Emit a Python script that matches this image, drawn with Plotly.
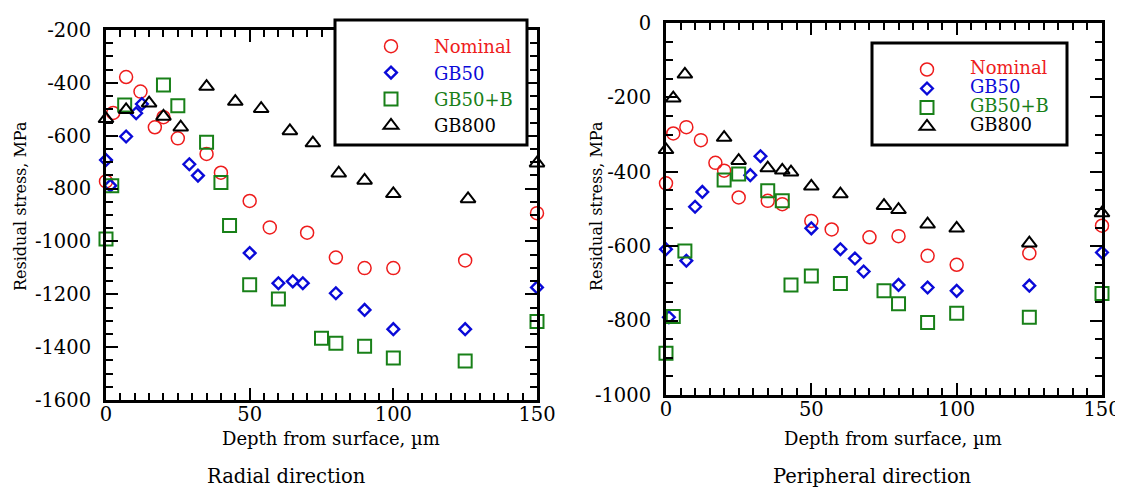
import plotly.graph_objects as go

W, H = 1123, 491
OFF = 8  # page margin around the figure
FW, FH = W - OFF, H - OFF

# ---------------- data: radial direction (left) ----------------
nom_x_r = [0, 2.5, 7, 12, 17, 20, 25, 35, 40, 50, 57, 70, 80, 90, 100, 125, 150]
nom_y_r = [-773, -514, -378, -433, -568, -530, -610, -669, -740, -847, -947, -967, -1061, -1101, -1101, -1072, -893]

gb50_x_r = [0, 1.5, 7, 10.5, 12.5, 29, 32, 50, 60, 65, 68.5, 80, 90, 100, 125, 150]
gb50_y_r = [-692, -789, -603, -515, -480, -708, -751, -1044, -1158, -1151, -1158, -1196, -1259, -1332, -1332, -1174]

gbb_x_r = [0, 2, 6.5, 20, 25, 35, 40, 43, 50, 60, 75, 80, 90, 100, 125, 150]
gbb_y_r = [-991, -789, -484, -408, -487, -625, -777, -940, -1164, -1218, -1366, -1385, -1397, -1441, -1452, -1303]

gb800_x_r = [0, 7, 15, 20, 26, 35, 45, 54, 64, 72, 81, 90, 100, 126, 150]
gb800_y_r = [-536, -502, -477, -527, -568, -414, -471, -498, -582, -628, -742, -769, -820, -839, -704]

# ---------------- data: peripheral direction (right) ----------------
nom_x_p = [0, 2.5, 7, 12, 17, 20, 25, 35, 40, 50, 57, 70, 80, 90, 100, 125, 150]
nom_y_p = [-431, -297, -280, -315, -376, -397, -469, -478, -487, -532, -555, -576, -573, -626, -650, -619, -545]

gb50_x_p = [0, 1, 7, 10, 12.5, 29, 32.5, 50, 60, 65, 68, 80, 90, 100, 125, 150]
gb50_y_p = [-608, -791, -639, -494, -454, -409, -358, -552, -608, -633, -668, -704, -711, -720, -706, -617]

gbb_x_p = [0, 2.5, 6.5, 20, 25, 35, 40, 43, 50, 60, 75, 80, 90, 100, 125, 150]
gbb_y_p = [-888, -789, -613, -422, -406, -451, -478, -704, -680, -700, -720, -755, -805, -780, -791, -727]

gb800_x_p = [0, 2.5, 6.5, 20, 25, 35, 40, 43, 50, 60, 75, 80, 90, 100, 125, 150]
gb800_y_p = [-341, -202, -138, -308, -370, -390, -396, -401, -439, -460, -491, -502, -541, -552, -592, -511]

series_names = ["Nominal", "GB50", "GB50+B", "GB800"]
series_colors = ["#ee1c1c", "#0a0ad8", "#188018", "#000000"]
series_symbols = ["circle-open", "diamond-open", "square-open", "triangle-up-open"]
series_sizes = [13, 9, 13, 13]
series_lw = [1.5, 2.4, 2, 2]

x_ticks = [0, 50, 100, 150]
x_ticktext = ["0", "50", "100", "150"]
y_ticks_r = [-1600, -1400, -1200, -1000, -800, -600, -400, -200]
y_ticktext_r = ["-1600", "-1400", "-1200", "-1000", "-800", "-600", "-400", "-200"]
y_ticks_p = [-1000, -800, -600, -400, -200, 0]
y_ticktext_p = ["-1000", "-800", "-600", "-400", "-200", "0"]

FONT = "DejaVu Serif"
TICK_SIZE = 19.5


def px(x):
    return (x - OFF) / FW


def py(y):
    return 1 - (y - OFF) / FH


radial = [(nom_x_r, nom_y_r), (gb50_x_r, gb50_y_r), (gbb_x_r, gbb_y_r), (gb800_x_r, gb800_y_r)]
periph = [(nom_x_p, nom_y_p), (gb50_x_p, gb50_y_p), (gbb_x_p, gbb_y_p), (gb800_x_p, gb800_y_p)]

pad = "\u00a0" * 4
fig = go.Figure()
for i, (xs, ys) in enumerate(radial):
    fig.add_trace(go.Scatter(
        x=xs, y=ys, mode="markers", xaxis="x", yaxis="y", cliponaxis=False,
        name=f'<span style="color:{series_colors[i]}">{pad}{series_names[i]}</span>',
        legend="legend",
        marker=dict(symbol=series_symbols[i], size=series_sizes[i], color=series_colors[i],
                    line=dict(width=series_lw[i], color=series_colors[i])),
    ))
for i, (xs, ys) in enumerate(periph):
    fig.add_trace(go.Scatter(
        x=xs, y=ys, mode="markers", xaxis="x2", yaxis="y2", cliponaxis=False,
        name=f'<span style="font-size:18px;color:{series_colors[i]}">{pad}{series_names[i]}</span>',
        legend="legend2",
        marker=dict(symbol=series_symbols[i], size=series_sizes[i], color=series_colors[i],
                    line=dict(width=series_lw[i], color=series_colors[i])),
    ))


def xaxis(domain, anchor):
    return dict(domain=domain, anchor=anchor, range=[0, 150], showgrid=False, zeroline=False,
                automargin=False,
                showline=True, linecolor="black", linewidth=3, mirror="allticks",
                ticks="inside", ticklen=12, tickwidth=2, tickcolor="black",
                tickvals=x_ticks, ticktext=x_ticktext, ticklabelstandoff=-5,
                tickfont=dict(family=FONT, size=TICK_SIZE, color="black"),
                minor=dict(ticks="inside", ticklen=7, tickwidth=2, tickcolor="black", dtick=5, tick0=0))


def yaxis(domain, anchor, rng, tv, tt):
    return dict(domain=domain, anchor=anchor, range=rng, showgrid=False, zeroline=False,
                automargin=False,
                showline=True, linecolor="black", linewidth=3, mirror="allticks",
                ticks="inside", ticklen=12, tickwidth=2, tickcolor="black",
                tickvals=tv, ticktext=tt, ticklabelstandoff=8,
                tickfont=dict(family=FONT, size=TICK_SIZE, color="black"),
                minor=dict(ticks="inside", ticklen=7, tickwidth=2, tickcolor="black", dtick=50, tick0=0))


def ann(text, x, y, size, angle=0):
    return dict(text=text, x=px(x), y=py(y), xref="paper", yref="paper", xanchor="center",
                yanchor="middle", showarrow=False, textangle=angle,
                font=dict(family=FONT, size=size, color="black"))


annotations = [
    ann("Depth from surface, \u00b5m", 331, 438, 18),
    ann("Depth from surface, \u00b5m", 893, 438, 18),
    ann("Radial direction", 286, 476, 19.5),
    ann("Peripheral direction", 872, 476, 19.5),
    ann("Residual stress, MPa", 20, 206, 16, -90),
    ann("Residual stress, MPa", 596, 206, 16, -90),
]

shapes = [
    dict(type="rect", xref="paper", yref="paper", x0=px(335), x1=px(527), y0=py(145), y1=py(20),
         line=dict(color="black", width=3), fillcolor="white", layer="above"),
    dict(type="rect", xref="paper", yref="paper", x0=px(872), x1=px(1067), y0=py(145), y1=py(43),
         line=dict(color="black", width=3), fillcolor="white", layer="above"),
]

fig.update_layout(
    width=FW, height=FH, margin=dict(l=0, r=0, t=0, b=0, pad=0, autoexpand=False),
    paper_bgcolor="white", plot_bgcolor="white",
    font=dict(family=FONT, color="black"),
    showlegend=True,
    xaxis=xaxis([px(106), px(537)], "y"),
    yaxis=yaxis([py(400), py(30)], "x", [-1600, -200], y_ticks_r, y_ticktext_r),
    xaxis2=xaxis([px(666), px(1102)], "y2"),
    yaxis2=yaxis([py(395), py(23)], "x2", [-1000, 0], y_ticks_p, y_ticktext_p),
    legend=dict(x=px(371), y=py(28), xanchor="left", yanchor="top", bgcolor="rgba(0,0,0,0)",
                borderwidth=0, font=dict(family=FONT, size=18), tracegroupgap=0),
    legend2=dict(x=px(907), y=py(55), xanchor="left", yanchor="top", bgcolor="rgba(0,0,0,0)",
                 borderwidth=0, font=dict(family=FONT, size=12), tracegroupgap=0),
    annotations=annotations, shapes=shapes,
)

fig.write_html("out.html")
